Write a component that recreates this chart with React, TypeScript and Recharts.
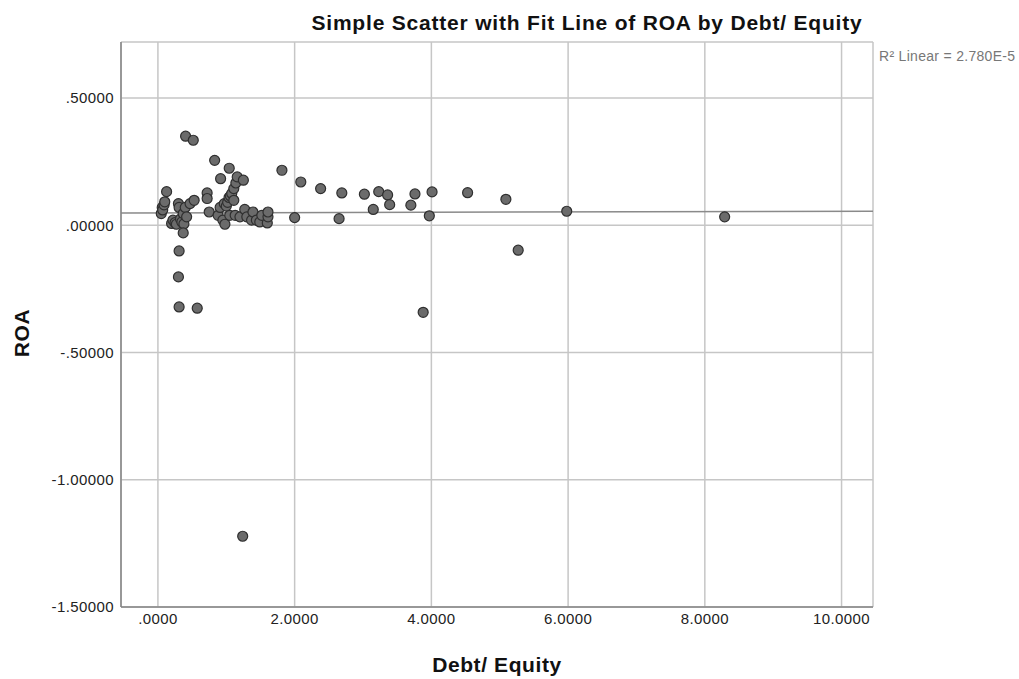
import { CartesianGrid, ReferenceLine, Scatter, ScatterChart, XAxis, YAxis } from "recharts";

// Debt/ Equity (x) vs ROA (y)
const debtEquity = [
  0.049, 0.063, 0.07, 0.09, 0.1, 0.127, 0.2, 0.22, 0.25, 0.27, 0.3, 0.31, 0.33, 0.35, 0.37, 0.38, 0.4, 0.42,
  0.47, 0.53, 0.37, 0.405, 0.517, 0.31, 0.3, 0.31, 0.575,
  0.72, 0.72, 0.75, 0.83, 0.88, 0.91, 0.917, 0.95, 0.97, 0.98, 1.0, 1.02, 1.04, 1.043, 1.05, 1.06, 1.08, 1.11,
  1.11, 1.13, 1.14, 1.16, 1.2, 1.25, 1.27, 1.3, 1.37, 1.39, 1.44, 1.49, 1.52, 1.6, 1.61, 1.61, 1.24,
  1.814, 2.0, 2.09, 2.38, 2.65, 2.69, 3.02, 3.15, 3.23, 3.36, 3.39, 3.7, 3.76, 3.88, 3.97, 4.01, 4.53, 5.09,
  5.27, 5.98, 8.29,
];
const roa = [
  0.046, 0.07, 0.06, 0.08, 0.092, 0.132, 0.007, 0.02, 0.01, 0.004, 0.085, 0.07, 0.025, 0.013, 0.046, 0.005, 0.07, 0.033,
  0.085, 0.098, -0.03, 0.35, 0.334, -0.101, -0.203, -0.321, -0.326,
  0.127, 0.105, 0.052, 0.255, 0.039, 0.07, 0.183, 0.02, 0.085, 0.004, 0.075, 0.09, 0.109, 0.224, 0.039, 0.115, 0.125, 0.144,
  0.098, 0.039, 0.166, 0.19, 0.033, 0.177, 0.062, 0.033, 0.02, 0.052, 0.02, 0.013, 0.039, 0.009, 0.033, 0.052, -1.222,
  0.216, 0.03, 0.17, 0.144, 0.026, 0.127, 0.122, 0.062, 0.132, 0.119, 0.081, 0.079, 0.123, -0.342, 0.037, 0.131, 0.128, 0.102,
  -0.098, 0.055, 0.033,
];

const xTicks = [0, 2, 4, 6, 8, 10];
const yTicks = [-1.5, -1, -0.5, 0, 0.5];
const fitLine = [
  { x: -0.54, y: 0.048 },
  { x: 10.46, y: 0.055 },
];

const points = debtEquity.map((x, i) => ({ x, y: roa[i] }));

const fmtX = (v: number) => (v === 0 ? ".0000" : v.toFixed(4));
const fmtY = (v: number) => {
  const s = Math.abs(v).toFixed(5).replace(/^0/, "");
  return v < 0 ? "-" + s : s;
};

const font = "'Liberation Sans', Arial, sans-serif";
const tickStyle = { fill: "#222", fontSize: 15, fontFamily: font, letterSpacing: 0.4 };

const Dot = (props: any) => (
  <circle cx={props.cx} cy={props.cy} r={5} fill="#6b6b6b" stroke="#2f2f2f" strokeWidth={1.2} />
);

export default function App() {
  return (
    <div style={{ position: "absolute", left: 0, top: 0, width: 1019, height: 679, background: "#fff" }}>
      <ScatterChart width={1019} height={679} margin={{ top: 42, right: 146, bottom: 0, left: 0 }}>
        <CartesianGrid stroke="#c6c6c6" strokeWidth={1.5} />
        <XAxis
          type="number"
          dataKey="x"
          domain={[-0.54, 10.46]}
          ticks={xTicks}
          tickFormatter={fmtX}
          height={72}
          tickLine={false}
          axisLine={{ stroke: "#858585", strokeWidth: 1.5 }}
          tick={tickStyle}
          tickMargin={0}
          allowDataOverflow
        />
        <YAxis
          type="number"
          dataKey="y"
          domain={[-1.5, 0.72]}
          ticks={yTicks}
          tickFormatter={fmtY}
          width={121}
          tickLine={false}
          axisLine={{ stroke: "#858585", strokeWidth: 1.5 }}
          tick={tickStyle}
          tickMargin={1}
          allowDataOverflow
        />
        <ReferenceLine segment={fitLine} stroke="#8a8a8a" strokeWidth={1.5} ifOverflow="hidden" />
        <Scatter data={points} shape={<Dot />} isAnimationActive={false} />
      </ScatterChart>
      <svg
        width={1019}
        height={679}
        style={{ position: "absolute", left: 0, top: 0, pointerEvents: "none" }}
        fontFamily={font}
      >
        <text x={587} y={30} textAnchor="middle" fontSize={21} fontWeight="bold" fill="#111" letterSpacing={0.8}>
          Simple Scatter with Fit Line of ROA by Debt/ Equity
        </text>
        <text x={879} y={61} fontSize={14} fill="#777" letterSpacing={0.3}>
          R² Linear = 2.780E-5
        </text>
        <text x={497} y={672} textAnchor="middle" fontSize={21} fontWeight="bold" fill="#111" letterSpacing={0.6}>
          Debt/ Equity
        </text>
        <text
          x={29}
          y={333}
          textAnchor="middle"
          fontSize={21}
          fontWeight="bold"
          fill="#111"
          letterSpacing={0.6}
          transform="rotate(-90 29 333)"
        >
          ROA
        </text>
      </svg>
    </div>
  );
}
